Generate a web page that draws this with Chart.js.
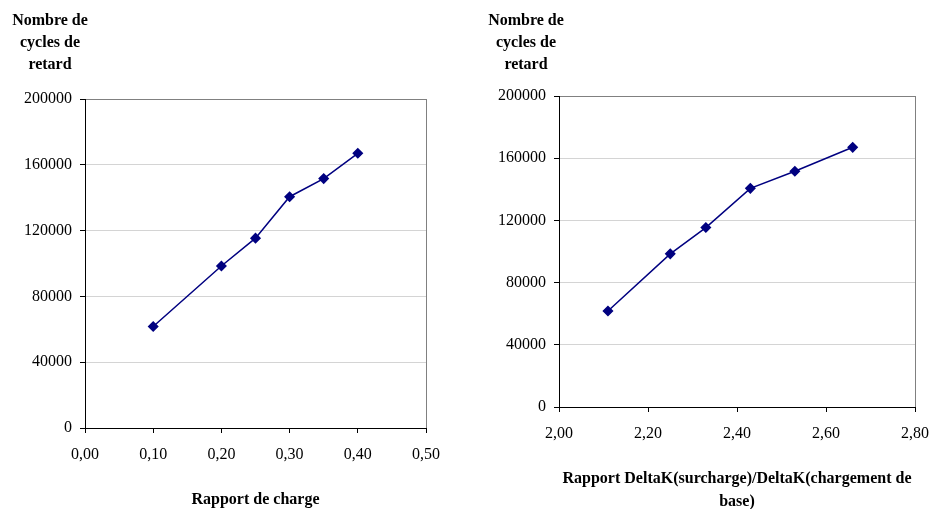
<!DOCTYPE html>
<html>
<head>
<meta charset="utf-8">
<script src="https://cdn.jsdelivr.net/npm/chart.js@4/dist/chart.umd.min.js"></script>
<style>
  body { margin: 0; background: #fff; width: 931px; height: 509px; overflow: hidden; position: relative; }
  canvas { position: absolute; top: 0; }
  .ytitle { position: absolute; top: 9px; width: 100px; text-align: center; font: bold 16px "Liberation Serif", serif; line-height: 22px; color: #000; }
</style>
</head>
<body>
<canvas id="chartA" width="465" height="509" style="left:0"></canvas>
<canvas id="chartB" width="466" height="513" style="left:465px"></canvas>
<div class="ytitle" style="left:0">Nombre de<br>cycles de<br>retard</div>
<div class="ytitle" style="left:476px">Nombre de<br>cycles de<br>retard</div>
<script>
const rapportCharge = [0.10, 0.20, 0.25, 0.30, 0.35, 0.40];
const rapportDeltaK = [2.11, 2.25, 2.33, 2.43, 2.53, 2.66];
const cyclesRetard = [61700, 98500, 115400, 140600, 151600, 167000];
const yTicks = [0, 40000, 80000, 120000, 160000, 200000];

const serif = '"Liberation Serif", serif';

function virgule(v) {
    return v.toFixed(2).replace('.', ',');
}

function crearGrafica(id, xs, xMin, xMax, xStep, xTitle, pad, yWidth, xHeight) {
    const puntos = xs.map((x, i) => ({ x: x, y: cyclesRetard[i] }));
    return new Chart(document.getElementById(id), {
        type: 'line',
        data: {
            datasets: [{
                data: puntos,
                borderColor: '#000080',
                backgroundColor: '#000080',
                borderWidth: 1.5,
                pointStyle: 'rectRot',
                pointRadius: 4.5,
                pointHoverRadius: 4.5,
                tension: 0
            }]
        },
        options: {
            responsive: false,
            animation: false,
            layout: { padding: pad },
            plugins: { legend: { display: false }, tooltip: { enabled: false } },
            scales: {
                x: {
                    type: 'linear',
                    min: xMin, max: xMax,
                    afterFit: (s) => {
                        s.height = xHeight;
                        s.paddingRight = 0;
                        s.paddingLeft = 0;
                    },
                    afterBuildTicks: (s) => {
                        const t = [];
                        for (let v = xMin; v <= xMax + 1e-9; v += xStep) t.push({ value: +v.toFixed(4) });
                        s.ticks = t;
                    },
                    border: { color: '#000', width: 1 },
                    grid: {
                        color: (c) => (c.tick && Math.abs(c.tick.value - xMax) < 1e-6) ? '#808080' : 'transparent',
                        tickColor: '#000',
                        tickLength: 5
                    },
                    ticks: {
                        color: '#000',
                        padding: 12,
                        maxRotation: 0,
                        autoSkip: false,
                        font: { family: serif, size: 16 },
                        callback: (v) => virgule(v)
                    },
                    title: {
                        display: true,
                        text: xTitle,
                        color: '#000',
                        font: { family: serif, size: 16, weight: 'bold', lineHeight: Array.isArray(xTitle) ? 1.4375 : 1.2 },
                        padding: { top: 0, bottom: 0 }
                    }
                },
                y: {
                    min: 0, max: 200000,
                    afterFit: (s) => { s.width = yWidth; },
                    afterBuildTicks: (s) => { s.ticks = yTicks.map(v => ({ value: v })); },
                    border: { color: '#000', width: 1 },
                    grid: {
                        color: (c) => {
                            if (!c.tick) return 'transparent';
                            if (c.tick.value === 200000) return '#808080';
                            if (c.tick.value === 0) return 'transparent';
                            return '#d4d4d4';
                        },
                        tickColor: '#000',
                        tickLength: 5
                    },
                    ticks: {
                        color: '#000',
                        padding: 8,
                        font: { family: serif, size: 16 },
                        callback: (v) => String(v)
                    }
                }
            }
        }
    });
}

document.addEventListener('DOMContentLoaded', () => {
    crearGrafica('chartA', rapportCharge, 0, 0.5, 0.1, 'Rapport de charge',
        { left: 0, right: 39, top: 99, bottom: 0 }, 85, 81);
    crearGrafica('chartB', rapportDeltaK, 2.0, 2.8, 0.2,
        ['Rapport DeltaK(surcharge)/DeltaK(chargement de', 'base)'],
        { left: 0, right: 16, top: 96, bottom: 0 }, 94, 106);
});
</script>
</body>
</html>
